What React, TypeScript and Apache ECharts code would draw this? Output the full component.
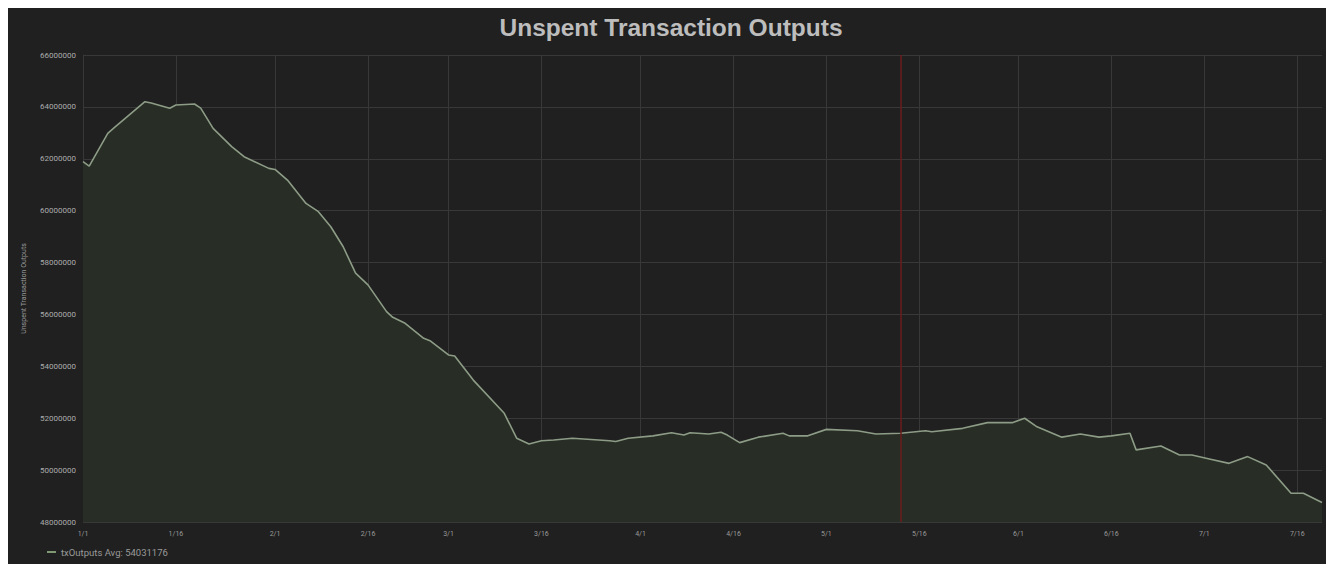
import React, { useEffect, useRef } from "react";
import * as echarts from "echarts";

const TITLE = "Unspent Transaction Outputs";
const Y_NAME = "Unspent Transaction Outputs";
const SERIES_NAME = "txOutputs";
const AVG_TEXT = "54031176";

// x range (2018)
const RANGE_START = [2018, 1, 1];
const RANGE_END = [2018, 7, 20];
const LABEL_DAYS = ["1", "16"];
const MARKER_DATE = "5/13";

// y axis
const Y_MIN = 48000000;
const Y_MAX = 66000000;
const Y_STEP = 2000000;

const pointDates = [
  "1/1", "1/2", "1/5", "1/6", "1/11", "1/12", "1/15", "1/16", "1/19", "1/20",
  "1/22", "1/25", "1/27", "1/31", "2/1", "2/3", "2/6", "2/8", "2/10", "2/12",
  "2/14", "2/16", "2/19", "2/20", "2/22", "2/25", "2/26", "3/1", "3/2", "3/5",
  "3/10", "3/12", "3/14", "3/16", "3/18", "3/21", "3/27", "3/28", "3/30", "4/3",
  "4/6", "4/8", "4/9", "4/12", "4/14", "4/15", "4/17", "4/20", "4/24", "4/25",
  "4/28", "5/1", "5/6", "5/9", "5/13", "5/17", "5/18", "5/23", "5/27", "5/31",
  "6/2", "6/4", "6/8", "6/11", "6/14", "6/16", "6/19", "6/20", "6/24", "6/27",
  "6/29", "7/2", "7/5", "7/8", "7/11", "7/15", "7/17", "7/20",
];
const pointValues = [
  61890000, 61720000, 62980000, 63190000, 64200000, 64150000, 63950000, 64070000, 64110000, 63950000,
  63170000, 62470000, 62080000, 61630000, 61590000, 61180000, 60280000, 59960000, 59380000, 58610000,
  57590000, 57140000, 56110000, 55890000, 55660000, 55080000, 54990000, 54440000, 54400000, 53470000,
  52190000, 51230000, 51010000, 51130000, 51160000, 51230000, 51130000, 51100000, 51230000, 51320000,
  51440000, 51350000, 51440000, 51390000, 51460000, 51350000, 51060000, 51270000, 51420000, 51320000,
  51320000, 51570000, 51520000, 51390000, 51420000, 51520000, 51480000, 51610000, 51830000, 51830000,
  52000000, 51670000, 51270000, 51390000, 51270000, 51320000, 51420000, 50780000, 50930000, 50580000,
  50580000, 50420000, 50260000, 50520000, 50200000, 49110000, 49110000, 48750000,
];

function buildCategories(): string[] {
  const out: string[] = [];
  const d = new Date(RANGE_START[0], RANGE_START[1] - 1, RANGE_START[2]);
  const end = new Date(RANGE_END[0], RANGE_END[1] - 1, RANGE_END[2]);
  while (d <= end) {
    out.push(`${d.getMonth() + 1}/${d.getDate()}`);
    d.setDate(d.getDate() + 1);
  }
  return out;
}

export default function App() {
  const ref = useRef<HTMLDivElement>(null);
  useEffect(() => {
    document.body.style.overflow = "hidden";
    const chart = echarts.init(ref.current!, null, { renderer: "svg" });
    const categories = buildCategories();
    const map: Record<string, number> = {};
    pointDates.forEach((k, i) => (map[k] = pointValues[i]));
    const data = categories.map((c) => (c in map ? map[c] : null));
    const isTick = (_i: number, v: string) => LABEL_DAYS.includes(v.split("/")[1]);

    chart.setOption({
      animation: false,
      backgroundColor: "#202020",
      textStyle: { fontFamily: "Roboto, 'Open Sans', sans-serif" },
      title: {
        text: TITLE,
        left: "center",
        top: 2,
        textStyle: { color: "#bdbdbd", fontSize: 24.5, fontWeight: "bold", fontFamily: "'Liberation Sans', Arial, sans-serif" },
      },
      legend: {
        left: 34,
        bottom: 2,
        icon: "rect",
        itemWidth: 9,
        itemHeight: 2,
        itemGap: 4,
        textStyle: { color: "#9a9a9a", fontSize: 9.5 },
        formatter: (name: string) => `${name} Avg: ${AVG_TEXT}`,
      },
      grid: { left: 75, right: 12, top: 47, bottom: 42, containLabel: false },
      xAxis: {
        type: "category",
        boundaryGap: false,
        data: categories,
        axisLine: { show: false },
        axisTick: { show: false },
        axisLabel: { interval: isTick, color: "#9a9a9a", fontSize: 7, margin: 8 },
        splitLine: { show: true, interval: isTick, lineStyle: { color: "#383838", width: 1 } },
      },
      yAxis: {
        type: "value",
        min: Y_MIN,
        max: Y_MAX,
        interval: Y_STEP,
        name: Y_NAME,
        nameLocation: "middle",
        nameGap: 56,
        nameTextStyle: { color: "#9a9a9a", fontSize: 7 },
        axisLine: { show: true, lineStyle: { color: "#383838" } },
        axisTick: { show: false },
        axisLabel: { color: "#acacac", fontSize: 8, margin: 7, formatter: (v: number) => String(v) },
        splitLine: { show: true, lineStyle: { color: "#383838", width: 1 } },
      },
      series: [
        {
          name: SERIES_NAME,
          type: "line",
          data,
          connectNulls: true,
          showSymbol: false,
          symbol: "none",
          color: "#7f9a70",
          lineStyle: { color: "#8d9c86", width: 1.6 },
          areaStyle: { color: "#282d25", opacity: 1 },
          markLine: {
            silent: true,
            symbol: "none",
            label: { show: false },
            lineStyle: { color: "#6a1c1c", type: "solid", width: 1.5 },
            data: [{ xAxis: MARKER_DATE }],
          },
        },
      ],
    });
    return () => chart.dispose();
  }, []);
  return <div ref={ref} style={{ width: 1326, height: 556 }} />;
}
